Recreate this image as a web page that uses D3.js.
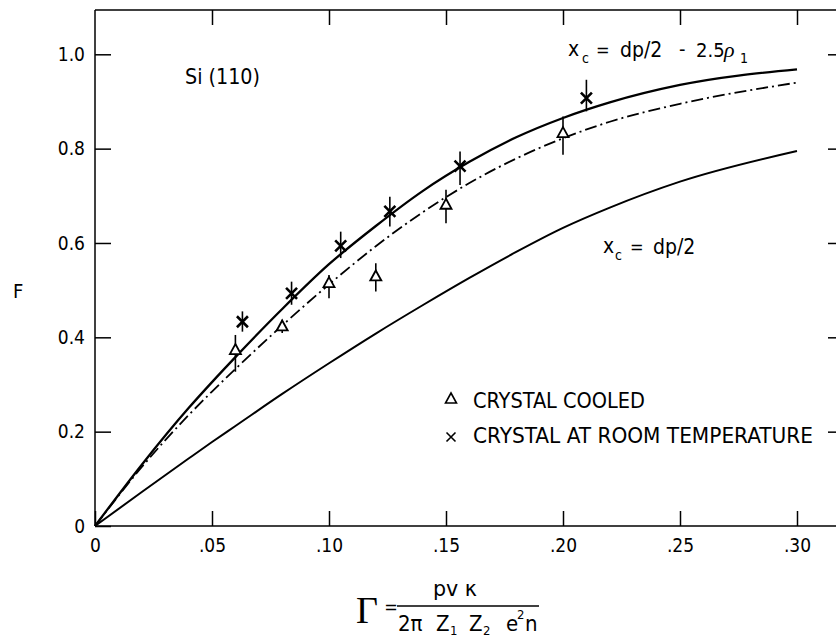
<!DOCTYPE html>
<html>
<head>
<meta charset="utf-8">
<script src="https://cdn.jsdelivr.net/npm/d3@7"></script>
<style>
  body { margin: 0; background: #fff; }
  svg { display: block; }
  text { font-family: "DejaVu Sans Condensed", "Liberation Sans Narrow", "DejaVu Sans", sans-serif; fill: #000; }
</style>
</head>
<body>
<svg id="chart" width="836" height="639"></svg>
<script>
// Theoretical curves F(Γ), sampled on a common Γ grid
const gammaGrid    = [0, 0.02, 0.04, 0.05, 0.06, 0.08, 0.10, 0.12, 0.14, 0.16, 0.18, 0.20, 0.22, 0.25, 0.30];
const fReduced     = [0, 0.130, 0.250, 0.305, 0.358, 0.460, 0.555, 0.636, 0.710, 0.772, 0.824, 0.865, 0.898, 0.935, 0.968];
const fDashDot     = [0, 0.125, 0.235, 0.285, 0.333, 0.425, 0.512, 0.593, 0.665, 0.727, 0.779, 0.822, 0.857, 0.895, 0.940];
const fHalfSpacing = [0, 0.072, 0.143, 0.178, 0.212, 0.280, 0.345, 0.408, 0.468, 0.526, 0.581, 0.632, 0.675, 0.730, 0.795];

// Measurements: crystal cooled
const cooledGamma = [0.060, 0.080, 0.100, 0.120, 0.150, 0.200];
const cooledF     = [0.373, 0.423, 0.515, 0.529, 0.681, 0.833];
const cooledLo    = [0.327, 0.409, 0.483, 0.497, 0.642, 0.787];
const cooledHi    = [0.405, 0.437, 0.532, 0.557, 0.713, 0.868];

// Measurements: crystal at room temperature
const roomGamma = [0.063, 0.084, 0.105, 0.126, 0.156, 0.210];
const roomF     = [0.433, 0.493, 0.594, 0.667, 0.763, 0.907];
const roomLo    = [0.412, 0.469, 0.568, 0.635, 0.723, 0.879];
const roomHi    = [0.455, 0.518, 0.624, 0.698, 0.794, 0.946];

// Axis ticks
const xTicks = [0, 0.05, 0.10, 0.15, 0.20, 0.25, 0.30];
const xTickLabels = ["0", ".05", ".10", ".15", ".20", ".25", ".30"];
const yTicks = [0, 0.2, 0.4, 0.6, 0.8, 1.0];
const yTickLabels = ["0", "0.2", "0.4", "0.6", "0.8", "1.0"];

const W = 836, H = 639;
const plotLeft = 95, plotBottom = 526, plotTop = 10;

const svg = d3.select("#chart");
svg.append("rect").attr("width", W).attr("height", H).attr("fill", "#fff");

const x = d3.scaleLinear().domain([0, 0.30]).range([plotLeft, 797]);
const y = d3.scaleLinear().domain([0, 1]).range([plotBottom, 54.3]);

// Frame
const frame = svg.append("g").attr("stroke", "#000").attr("stroke-width", 1.5).attr("fill", "none");
frame.append("line").attr("x1", plotLeft).attr("y1", plotTop).attr("x2", plotLeft).attr("y2", plotBottom);
frame.append("line").attr("x1", plotLeft).attr("y1", plotBottom).attr("x2", W).attr("y2", plotBottom);
frame.append("line").attr("x1", plotLeft).attr("y1", plotTop).attr("x2", W).attr("y2", plotTop);

function styleAxis(g) {
  g.select(".domain").remove();
  g.selectAll(".tick line").attr("stroke", "#000").attr("stroke-width", 1.5);
  g.selectAll(".tick text").attr("font-size", 19).attr("fill", "#000");
  g.attr("font-family", null).attr("font-size", null);
}

// Bottom axis
svg.append("g").attr("transform", `translate(0,${plotBottom})`)
  .call(d3.axisBottom(x).tickValues(xTicks).tickFormat((d, i) => xTickLabels[i])
    .tickSizeInner(-15).tickSizeOuter(0).tickPadding(13))
  .call(styleAxis);

// Top axis (ticks only)
svg.append("g").attr("transform", `translate(0,${plotTop})`)
  .call(d3.axisTop(x).tickValues(xTicks.slice(1)).tickFormat("")
    .tickSizeInner(-15).tickSizeOuter(0))
  .call(styleAxis);

// Left axis
svg.append("g").attr("transform", `translate(${plotLeft},0)`)
  .call(d3.axisLeft(y).tickValues(yTicks).tickFormat((d, i) => yTickLabels[i])
    .tickSizeInner(-16).tickSizeOuter(0).tickPadding(10))
  .call(styleAxis);

// Right axis (ticks only)
svg.append("g").attr("transform", `translate(${W},0)`)
  .call(d3.axisRight(y).tickValues(yTicks.slice(1)).tickFormat("")
    .tickSizeInner(-8).tickSizeOuter(0))
  .call(styleAxis);

// Curves
const line = d3.line().x(d => x(d[0])).y(d => y(d[1])).curve(d3.curveMonotoneX);
const series = (vals) => gammaGrid.map((g, i) => [g, vals[i]]);

svg.append("path").attr("d", line(series(fHalfSpacing)))
  .attr("fill", "none").attr("stroke", "#000").attr("stroke-width", 2);
svg.append("path").attr("d", line(series(fDashDot)))
  .attr("fill", "none").attr("stroke", "#000").attr("stroke-width", 1.8)
  .attr("stroke-dasharray", "12,4,2,4");
svg.append("path").attr("d", line(series(fReduced)))
  .attr("fill", "none").attr("stroke", "#000").attr("stroke-width", 2.3);

// Error bars
const bars = svg.append("g").attr("stroke", "#000").attr("stroke-width", 1.6);
cooledGamma.forEach((g, i) => {
  bars.append("line").attr("x1", x(g)).attr("x2", x(g)).attr("y1", y(cooledLo[i])).attr("y2", y(cooledHi[i]));
});
roomGamma.forEach((g, i) => {
  bars.append("line").attr("x1", x(g)).attr("x2", x(g)).attr("y1", y(roomLo[i])).attr("y2", y(roomHi[i]));
});

// Marker shapes
function triPath(cx, cy, w, h) {
  return `M${cx},${cy - h * 0.6}L${cx + w / 2},${cy + h * 0.4}L${cx - w / 2},${cy + h * 0.4}Z`;
}
function crossPath(cx, cy, s) {
  return `M${cx - s},${cy - s}L${cx + s},${cy + s}M${cx - s},${cy + s}L${cx + s},${cy - s}`;
}

const marks = svg.append("g");
cooledGamma.forEach((g, i) => {
  marks.append("path").attr("d", triPath(x(g), y(cooledF[i]), 11, 10))
    .attr("fill", "#fff").attr("stroke", "#000").attr("stroke-width", 1.8).attr("stroke-linejoin", "miter");
});
roomGamma.forEach((g, i) => {
  marks.append("path").attr("d", crossPath(x(g), y(roomF[i]), 5.5))
    .attr("fill", "none").attr("stroke", "#000").attr("stroke-width", 2.6);
});

// Text helper: fixed width texts are squeezed to a condensed look
function txt(str, px, py, size, opts = {}) {
  const t = svg.append("text").attr("x", px).attr("y", py).attr("font-size", size).text(str);
  if (opts.len) t.attr("textLength", opts.len).attr("lengthAdjust", opts.adjust || "spacingAndGlyphs");
  if (opts.family) t.style("font-family", opts.family);
  if (opts.anchor) t.attr("text-anchor", opts.anchor);
  return t;
}

// Multi-part label built from positioned tspans: [text, x, y, size, italic?, serif?]
function richText(parts) {
  const t = svg.append("text");
  parts.forEach(([s, px, py, fs, it, serif]) => {
    const sp = t.append("tspan").attr("x", px).attr("y", py).attr("font-size", fs).text(s);
    if (it) sp.attr("font-style", "italic");
    if (serif) sp.style("font-family", "'Liberation Serif', serif");
  });
  return t;
}

txt("Si (110)", 185, 84, 22, { len: 75 });
txt("F", 13, 298, 20);

// x_c = dp/2 - 2.5ρ1
richText([
  ["x", 568, 56, 21],
  ["c", 582, 63, 14],
  ["=", 596, 56, 18],
  ["dp/2", 620, 57, 21],
  ["-", 679, 56, 20],
  ["2.5", 696, 57, 20],
  ["ρ", 724, 57, 22, true, true],
  ["1", 740, 63, 14]
]);

// x_c = dp/2
richText([
  ["x", 603, 253, 21],
  ["c", 615, 260, 14],
  ["=", 630, 253, 18],
  ["dp/2", 653, 254, 21]
]);

// Legend
svg.append("path").attr("d", triPath(451, 399, 11, 10))
  .attr("fill", "#fff").attr("stroke", "#000").attr("stroke-width", 1.6);
txt("CRYSTAL COOLED", 473, 408, 22, { len: 172 });
svg.append("path").attr("d", crossPath(451, 437, 4.5))
  .attr("fill", "none").attr("stroke", "#000").attr("stroke-width", 1.6);
txt("CRYSTAL AT ROOM TEMPERATURE", 473, 443, 22, { len: 340 });

// Axis title: Γ = pvκ / (2π Z1 Z2 e²n)
txt("Γ", 356, 623, 38, { family: "'Liberation Serif', serif" });
txt("=", 391, 613, 18, { anchor: "middle" });
svg.append("line").attr("x1", 397).attr("x2", 539).attr("y1", 606).attr("y2", 606)
  .attr("stroke", "#000").attr("stroke-width", 1.5);
txt("pv κ", 433, 596, 22, { len: 44 });

richText([
  ["2π", 398, 631, 22],
  ["Z", 436, 631, 22],
  ["1", 450, 635, 13],
  ["Z", 469, 631, 22],
  ["2", 483, 635, 13],
  ["e", 506, 631, 22],
  ["2", 517, 619, 13],
  ["n", 525, 631, 22]
]);
</script>
</body>
</html>
